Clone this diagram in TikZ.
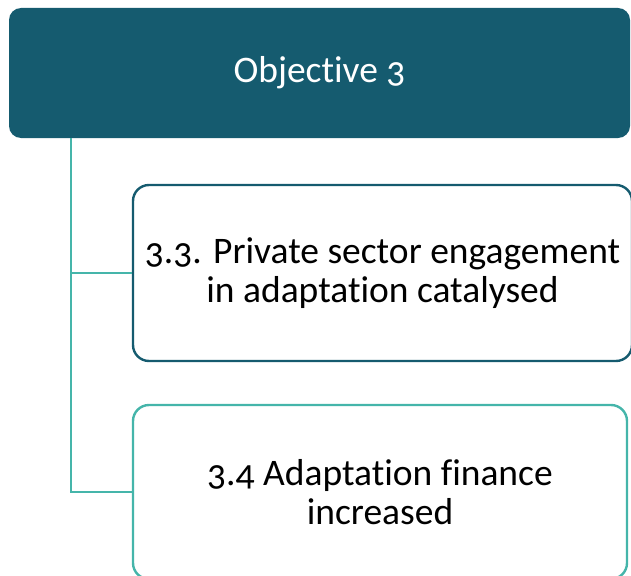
\documentclass[tikz,border=0pt]{standalone}
\usepackage{fontspec}
\setmainfont[Numbers=OldStyle, Ligatures=NoCommon]{Carlito}
\usepackage{tikz}
\usetikzlibrary{positioning}

\definecolor{tealdark}{HTML}{155B6F}
\definecolor{teallight}{HTML}{45B5AA}

\begin{document}
\begin{tikzpicture}[x=1pt, y=-1pt,
    objbox/.style={rectangle, rounded corners=12pt, fill=tealdark, text=white, font=\fontsize{37.5}{39}\selectfont, inner sep=0pt},
    outbox/.style={rectangle, rounded corners=16pt, draw, line width=2.4pt, fill=white, align=center, font=\fontsize{37.5}{39}\selectfont, inner sep=0pt},
    link/.style={teallight, line width=2pt}]

    % Rahmen
    \useasboundingbox (0,0) rectangle (631,575);

    % Ziel
    \node (obj) at (319.5,73) [objbox, minimum width=621pt, minimum height=130pt] {Objective 3};

    % Ergebnisse
    \node (out33) at (382.5,273) [outbox, draw=tealdark, minimum width=499pt, minimum height=176pt] {3.3. Private sector engagement\\in adaptation catalysed};
    \node (out34) at (380,492) [outbox, draw=teallight, minimum width=494pt, minimum height=174pt] {3.4 Adaptation finance\\increased};

    % Stamm
    \coordinate (trunk) at (71,0);

    % Verbindungen
    \draw[link] (trunk |- obj.south) |- (out33.west);
    \draw[link] (trunk |- obj.south) |- (out34.west);

\end{tikzpicture}
\end{document}
